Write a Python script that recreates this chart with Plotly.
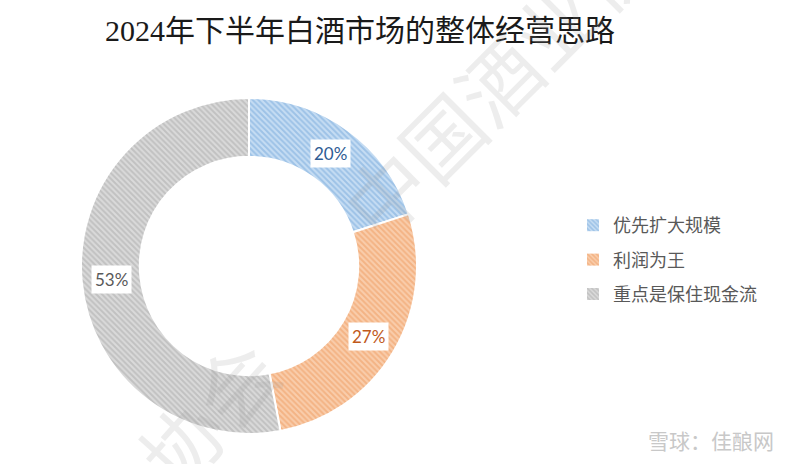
import math
import plotly.graph_objects as go

# ---- data ----
title_text = "2024年下半年白酒市场的整体经营思路"
categories = ["优先扩大规模", "利润为王", "重点是保住现金流"]
values = [20, 27, 53]
watermark_text = "中国酒业协会"
source_text = "雪球：佳酿网"

# ---- styling ----
W, H = 800, 464
CX, CY, R = 249, 266, 168          # donut centre / outer radius in pixels
HOLE = 0.65
bg_cols = ["#C6DDF3", "#F9CDAC", "#DADADA"]
fg_cols = ["#74A7DB", "#EE9A5D", "#A8A8A8"]
label_cols = ["#2E5C94", "#C0591A", "#595959"]

dom_x = [(CX - R) / W, (CX + R) / W]
dom_y = [1 - (CY + R) / H, 1 - (CY - R) / H]

fig = go.Figure()
fig.add_trace(go.Pie(
    labels=categories, values=values, hole=HOLE, sort=False,
    direction="clockwise", rotation=0, textinfo="none", hoverinfo="label+percent",
    marker=dict(colors=bg_cols, line=dict(color="white", width=2),
                pattern=dict(shape="\\", fgcolor=fg_cols, size=4, solidity=0.5,
                             fillmode="overlay")),
    domain=dict(x=dom_x, y=dom_y), showlegend=False,
))

# legend entries (bar traces carry the patterned swatches)
for name, bc, fc in zip(categories, bg_cols, fg_cols):
    fig.add_trace(go.Bar(x=[None], y=[None], name=name, legendgroup=name,
                         marker=dict(color=bc, line=dict(width=0),
                                     pattern=dict(shape="\\", fgcolor=fc, size=4,
                                                  solidity=0.5, fillmode="overlay"))))

# percentage labels at slice mid-angles
total = sum(values)
cum = 0
r_mid = R * (1 + HOLE) / 2
annotations = []
for v, col in zip(values, label_cols):
    frac = (cum + v / 2) / total
    cum += v
    th = 2 * math.pi * frac
    px = CX + r_mid * math.sin(th)
    py = CY - r_mid * math.cos(th)
    annotations.append(dict(
        x=px / W, y=1 - py / H, xref="paper", yref="paper", showarrow=False,
        xanchor="center", yanchor="middle",
        text=f"{round(v / total * 100)}%", bgcolor="white", borderpad=3,
        font=dict(family="Lato, 'Open Sans', sans-serif", size=17, color=col)))

# watermark
wm_font = dict(family="'Noto Sans CJK SC', sans-serif", size=80, color="rgba(150,150,150,0.17)")
annotations.append(dict(x=525 / W, y=1 - 50 / H, xref="paper", yref="paper",
                        xanchor="center", yanchor="middle",
                        showarrow=False, text=watermark_text, textangle=-45, font=wm_font))
annotations.append(dict(x=100 / W, y=1 - 530 / H, xref="paper", yref="paper",
                        xanchor="center", yanchor="middle",
                        showarrow=False, text=watermark_text, textangle=-48, font=wm_font))
# source mark
annotations.append(dict(x=776 / W, y=1 - 440 / H, xref="paper", yref="paper",
                        xanchor="right", yanchor="middle", showarrow=False, text=source_text,
                        font=dict(family="'Noto Sans CJK SC', sans-serif", size=21,
                                  color="#C8C8C8")))

fig.update_layout(
    width=W, height=H, margin=dict(l=0, r=0, t=0, b=0),
    paper_bgcolor="white", plot_bgcolor="white",
    title=dict(text=title_text, x=360 / W, xanchor="center", y=1 - 30 / H, yanchor="middle",
               font=dict(family="'Liberation Serif', 'Noto Sans CJK SC', serif", size=30,
                         color="#1a1a1a")),
    xaxis=dict(visible=False), yaxis=dict(visible=False),
    legend=dict(x=573 / W, xanchor="left", y=1 - 260 / H, yanchor="middle",
                traceorder="grouped", tracegroupgap=8,
                font=dict(family="'Noto Sans CJK SC', sans-serif", size=18, color="#595959")),
    annotations=annotations,
)

fig.write_html("out.html", config={"displayModeBar": False},
               post_script="document.body.style.margin='0px';")
